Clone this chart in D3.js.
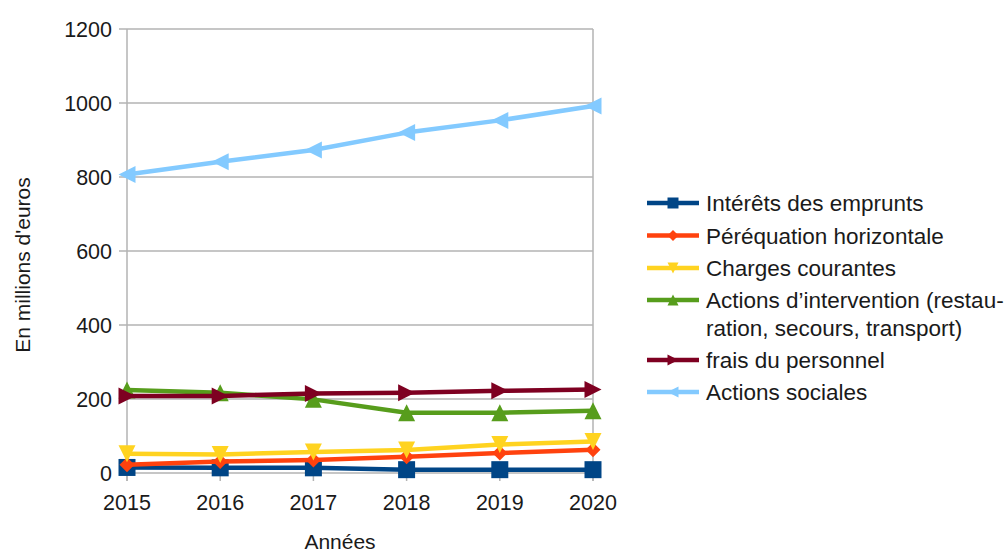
<!DOCTYPE html>
<html><head><meta charset="utf-8">
<script src="https://cdn.jsdelivr.net/npm/d3@7"></script>
<style>
body{margin:0;background:#fff;}
text{font-family:"Liberation Sans",Arial,sans-serif;fill:#1a1a1a;}
</style></head><body>
<svg id="c" width="1008" height="554"></svg>
<script>
const years = [2015, 2016, 2017, 2018, 2019, 2020];
const yTicks = [0, 200, 400, 600, 800, 1000, 1200];
const seriesNames = ["Intérêts des emprunts", "Péréquation horizontale", "Charges courantes",
  "Actions d’intervention (restau-|ration, secours, transport)", "frais du personnel", "Actions sociales"];
const interets = [15, 14, 14, 9, 9, 9];
const perequation = [22, 31, 35, 44, 54, 63];
const charges = [52, 50, 57, 62, 77, 85];
const intervention = [224, 217, 199, 163, 163, 168];
const personnel = [208, 208, 215, 217, 222, 226];
const sociales = [807, 841, 873, 920, 953, 992];
const seriesValues = [interets, perequation, charges, intervention, personnel, sociales];
const colors = ["#004586", "#ff420e", "#ffd320", "#579d1c", "#7e0021", "#83caff"];
const shapes = ["square", "diamond", "down", "up", "right", "left"];

const svg = d3.select("#c");
const L = 127, R = 593, T = 29, B = 473;
const x = d3.scalePoint().domain(years).range([L, R]);
const y = d3.scaleLinear().domain([0, 1200]).range([B, T]);

// gridlines
svg.append("g").selectAll("line").data(yTicks).join("line")
  .attr("x1", L - 8).attr("x2", R).attr("y1", d => y(d)).attr("y2", d => y(d))
  .attr("stroke", "#b3b3b3").attr("stroke-width", 1.5);
// wall borders left/right
svg.append("line").attr("x1", L).attr("x2", L).attr("y1", T).attr("y2", B + 8).attr("stroke", "#b3b3b3").attr("stroke-width", 1.5);
svg.append("line").attr("x1", R).attr("x2", R).attr("y1", T).attr("y2", B + 8).attr("stroke", "#b3b3b3").attr("stroke-width", 1.5);
svg.append("g").selectAll("line").data(years).join("line")
  .attr("x1", d => x(d)).attr("x2", d => x(d)).attr("y1", B).attr("y2", B + 8)
  .attr("stroke", "#b3b3b3").attr("stroke-width", 1.5);

// tick labels
svg.append("g").selectAll("text").data(yTicks).join("text")
  .attr("x", 112).attr("y", d => y(d)).attr("dy", "0.36em").attr("text-anchor", "end")
  .style("font-size", "21.5px").text(d => d);
svg.append("g").selectAll("text").data(years).join("text")
  .attr("x", d => x(d)).attr("y", 510).attr("text-anchor", "middle")
  .style("font-size", "21.5px").text(d => d);

// axis titles
svg.append("text").attr("x", 340).attr("y", 549).attr("text-anchor", "middle").style("font-size", "21px").text("Années");
svg.append("text").attr("transform", "translate(30,265) rotate(-90)").attr("text-anchor", "middle").style("font-size", "21px").text("En millions d'euros");

function symbolPath(shape, s) {
  const h = s / 2;
  switch (shape) {
    case "square": return `M${-h},${-h}H${h}V${h}H${-h}Z`;
    case "diamond": return `M0,${-h}L${h},0L0,${h}L${-h},0Z`;
    case "down": return `M${-h},${-h}L${h},${-h}L0,${h}Z`;
    case "up": return `M${-h},${h}L${h},${h}L0,${-h}Z`;
    case "right": return `M${-h},${-h}L${h},0L${-h},${h}Z`;
    case "left": return `M${h},${-h}L${-h},0L${h},${h}Z`;
  }
}
const line = d3.line().x((d, i) => x(years[i])).y(d => y(d));
seriesValues.forEach((vals, k) => {
  const g = svg.append("g");
  g.append("path").attr("d", line(vals)).attr("fill", "none").attr("stroke", colors[k])
    .attr("stroke-width", 4.5).attr("stroke-linejoin", "round");
  g.selectAll("path.m").data(vals).join("path").attr("class", "m")
    .attr("transform", (d, i) => `translate(${x(years[i])},${y(d)})`)
    .attr("d", symbolPath(shapes[k], k === 1 ? 15 : 17)).attr("fill", colors[k]);
});

// legend
const legY = [203, 235.5, 268, 300, 360, 392];
seriesNames.forEach((name, k) => {
  const g = svg.append("g").attr("transform", `translate(0,${legY[k]})`);
  g.append("line").attr("x1", 647).attr("x2", 699).attr("y1", 0).attr("y2", 0)
    .attr("stroke", colors[k]).attr("stroke-width", 4.5);
  g.append("path").attr("transform", "translate(673,0)").attr("d", symbolPath(shapes[k], 11)).attr("fill", colors[k]);
  name.split("|").forEach((part, j) => {
    g.append("text").attr("x", 706).attr("y", j * 28).attr("dy", "0.36em")
      .style("font-size", "22.5px").text(part);
  });
});
</script>
</body></html>
